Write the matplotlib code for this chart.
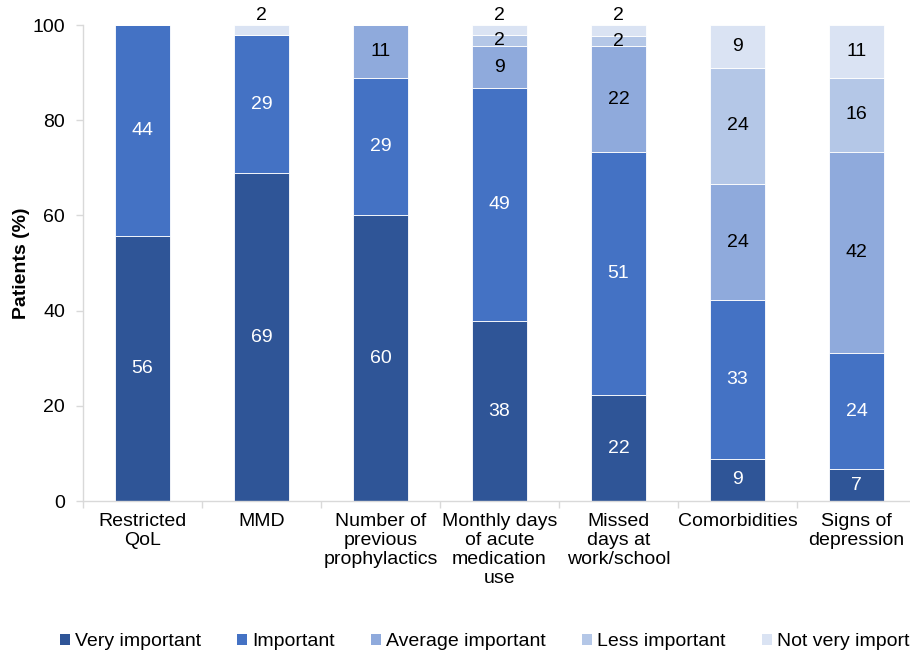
import matplotlib
matplotlib.use("Agg")
import matplotlib.pyplot as plt
from matplotlib.patches import Patch
import numpy as np

plt.rcParams['font.family'] = ['Liberation Sans', 'DejaVu Sans']

categories = ["Restricted\nQoL", "MMD", "Number of\nprevious\nprophylactics",
              "Monthly days\nof acute\nmedication\nuse", "Missed\ndays at\nwork/school",
              "Comorbidities", "Signs of\ndepression"]
series_names = ["Very important", "Important", "Average important",
                "Less important", "Not very important"]
very_important = [55.6, 68.9, 60.0, 37.8, 22.2, 8.9, 6.7]
important = [44.4, 28.9, 28.9, 48.9, 51.1, 33.3, 24.4]
average_important = [0, 0, 11.1, 8.9, 22.2, 24.4, 42.2]
less_important = [0, 0, 0, 2.2, 2.2, 24.4, 15.6]
not_very_important = [0, 2.2, 0, 2.2, 2.2, 8.9, 11.1]
yticks = [0, 20, 40, 60, 80, 100]

colors = ["#2F5597", "#4472C4", "#8FAADC", "#B4C7E7", "#DAE3F3"]
text_colors = ["white", "white", "black", "black", "black"]
FS = 14

fig = plt.figure(figsize=(9.1, 6.56), dpi=100)
ax = fig.add_axes([83/910, 1-501/656, 833/910, 476/656])

series = [very_important, important, average_important, less_important, not_very_important]
x = np.arange(len(categories))
bottom = np.zeros(len(categories))
for i, vals in enumerate(series):
    vals = np.array(vals, dtype=float)
    ax.bar(x, vals, width=0.455, bottom=bottom, color=colors[i],
           edgecolor="white", linewidth=0.6, label=series_names[i])
    for j, v in enumerate(vals):
        if v <= 0:
            continue
        if i == len(series) - 1 and v < 3:
            ypos = 102.1
        else:
            ypos = bottom[j] + v / 2
        ax.text(x[j], ypos, f"{round(v):d}", ha="center", va="center",
                fontsize=FS, color=text_colors[i], clip_on=False)
    bottom += vals

ax.set_xlim(-0.5, len(categories) - 0.5)
ax.set_ylim(0, 100)
ax.set_yticks(yticks)
ax.set_xticks(x)
ax.set_xticklabels(categories, fontsize=FS, linespacing=1.15)
ax.set_xticks(np.arange(-0.5, len(categories), 1.0), minor=True)
ax.tick_params(axis="x", which="major", length=0, pad=9)
ax.tick_params(axis="x", which="minor", length=5, color="#D9D9D9", width=1)
ax.tick_params(axis="y", length=5, color="#D9D9D9", width=1, pad=8, labelsize=FS)
for s in ["top", "right"]:
    ax.spines[s].set_visible(False)
for s in ["left", "bottom"]:
    ax.spines[s].set_color("#D9D9D9")
    ax.spines[s].set_linewidth(1)
ax.set_ylabel("Patients (%)", fontsize=FS, fontweight="bold")
ax.yaxis.set_label_coords(-0.0636, 0.5)

handles = [Patch(facecolor=c, edgecolor="none") for c in colors]
fig.legend(handles, series_names, loc="center left",
           bbox_to_anchor=(60/910, 1-642/656), ncol=5, frameon=False,
           fontsize=FS, handlelength=0.52, handleheight=0.52,
           handletextpad=0.26, columnspacing=1.85, borderaxespad=0, borderpad=0)

fig.savefig("out.png", dpi=100)
